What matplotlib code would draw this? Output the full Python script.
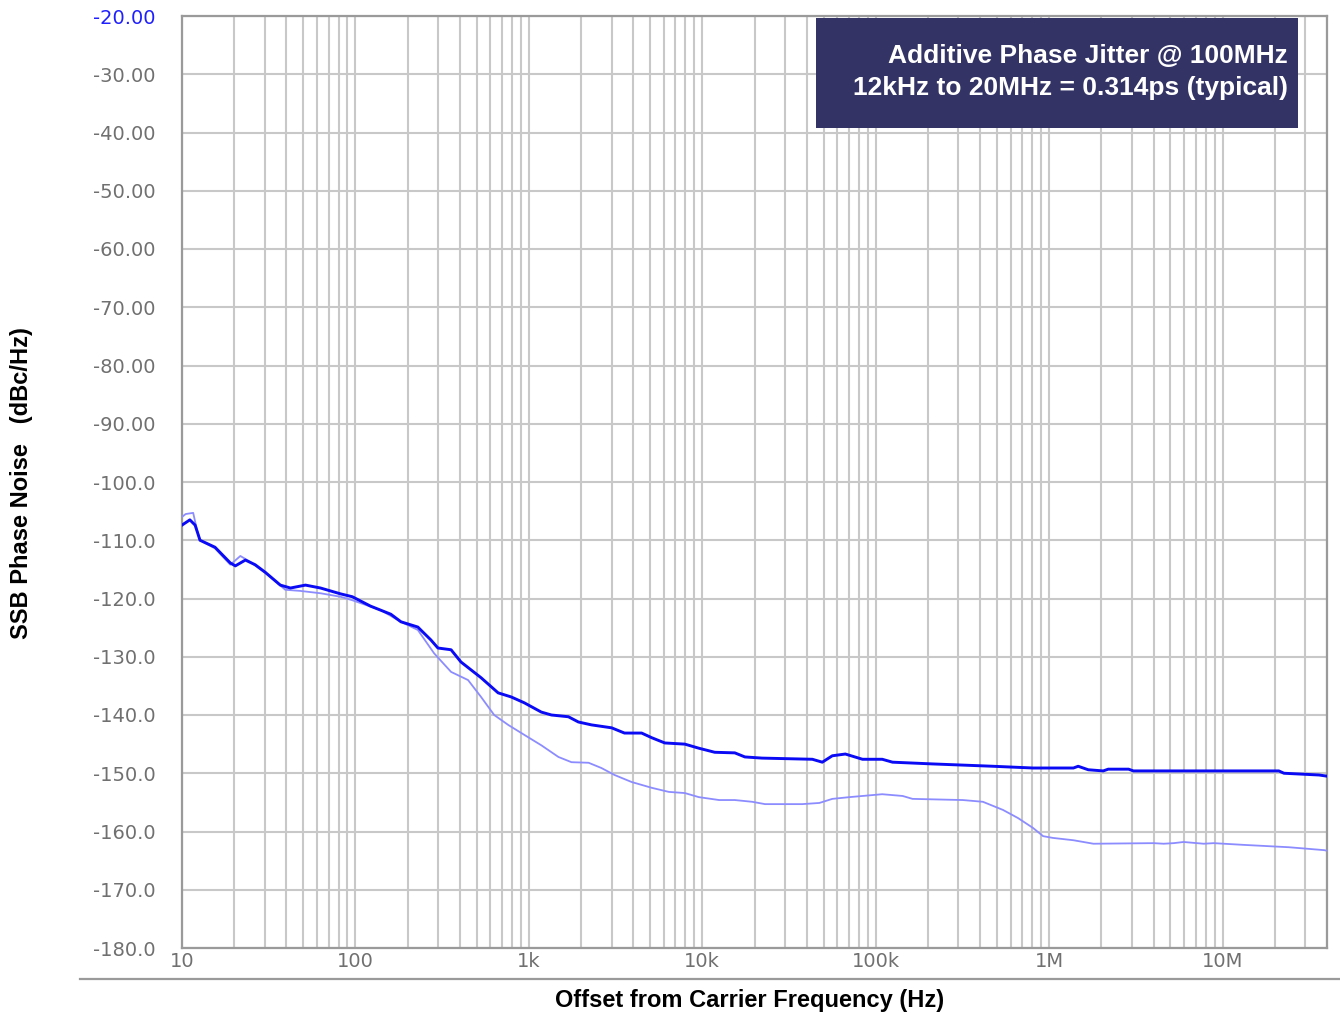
import matplotlib
matplotlib.use("Agg")
import matplotlib.pyplot as plt
from matplotlib.patches import Rectangle
from matplotlib.ticker import FixedLocator, LogLocator, NullFormatter

# dark trace (output of device)
freq_dark = [10, 11.1, 11.9, 12.7, 15.5, 19.0, 20.3, 23.2, 26.4, 30.2, 36.9, 42.2, 51.5, 62.9,
             82.0, 96, 122, 160, 183, 229, 238, 272, 299, 356, 406, 530, 665, 791, 940,
             1180, 1350, 1690, 1930, 2300, 3000, 3560, 4470, 5110, 6080, 7930, 9550,
             11800, 15400, 17600, 22100, 43100, 49200, 56200, 66800, 83900, 109000,
             125000, 213000, 474000, 808000, 1.38e6, 1.47e6, 1.68e6, 2.05e6, 2.19e6,
             2.87e6, 3.06e6, 2.11e7, 2.26e7, 3.6e7, 4.0e7]
pn_dark = [-107.4, -106.5, -107.4, -110.0, -111.2, -113.9, -114.4, -113.4, -114.2, -115.5,
           -117.7, -118.2, -117.7, -118.2, -119.2, -119.7, -121.3, -122.7, -124.0, -124.9,
           -125.4, -127.1, -128.5, -128.8, -130.9, -133.6, -136.2, -136.9, -137.9, -139.5,
           -140.0, -140.3, -141.2, -141.7, -142.2, -143.1, -143.1, -143.9, -144.8, -145.0,
           -145.7, -146.4, -146.5, -147.2, -147.4, -147.6, -148.1, -147.0, -146.7, -147.6,
           -147.6, -148.1, -148.4, -148.8, -149.1, -149.1, -148.8, -149.4, -149.6, -149.3,
           -149.3, -149.6, -149.6, -150.0, -150.3, -150.5]

# light trace (source reference)
freq_light = [10, 10.5, 11.6, 12.2, 12.7, 15.5, 19.0, 21.7, 24.7, 30.2, 39.4, 48.2, 62.9,
              82.0, 96, 140, 183, 229, 284, 356, 446, 530, 631, 760, 940, 1180, 1480,
              1760, 2210, 2620, 3120, 3910, 5110, 6410, 7930, 9550, 12500, 15400, 19400,
              23000, 37700, 47300, 56200, 70500, 83900, 109000, 143000, 163000, 318000,
              415000, 542000, 662000, 808000, 923000, 1.05e6, 1.38e6, 1.80e6, 4.0e6,
              4.57e6, 5.22e6, 5.96e6, 7.78e6, 8.89e6, 1.33e7, 2.41e7, 3.85e7, 4.0e7]
pn_light = [-106.0, -105.5, -105.3, -108.2, -110.0, -111.4, -114.2, -112.7, -113.7, -115.6,
            -118.5, -118.7, -119.1, -119.7, -120.3, -122.0, -124.0, -125.4, -129.4, -132.6,
            -134.0, -136.9, -140.0, -141.7, -143.4, -145.2, -147.2, -148.1, -148.2, -149.1,
            -150.3, -151.5, -152.5, -153.2, -153.4, -154.1, -154.6, -154.6, -154.9, -155.3,
            -155.3, -155.1, -154.4, -154.1, -153.9, -153.6, -153.9, -154.4, -154.6, -154.9,
            -156.3, -157.7, -159.4, -160.8, -161.1, -161.5, -162.1, -162.0, -162.1, -162.0,
            -161.8, -162.1, -162.0, -162.3, -162.7, -163.2, -163.3]

xticks = [10, 100, 1e3, 1e4, 1e5, 1e6, 1e7]
xlabels = ["10", "100", "1k", "10k", "100k", "1M", "10M"]
yticks = list(range(-20, -181, -10))
ylabels = ["%.2f" % v if v > -100 else "%.1f" % v for v in yticks]

note = "Additive Phase Jitter @ 100MHz\n12kHz to 20MHz = 0.314ps (typical)"

grid_col = "#c8c8c8"
tick_col = "#707070"

fig = plt.figure(figsize=(13.4, 10.14), dpi=100)
ax = fig.add_axes([182 / 1340, 1 - 948 / 1014, (1327 - 182) / 1340, (948 - 16) / 1014])

ax.plot(freq_light, pn_light, color="#8c8cff", lw=1.3, zorder=3)
ax.plot(freq_dark, pn_dark, color="#0a0af5", lw=2.1, zorder=4)

ax.set_xscale("log")
ax.set_xlim(10, 4.0e7)
ax.set_ylim(-180, -20)

ax.xaxis.set_major_locator(FixedLocator(xticks))
ax.set_xticklabels(xlabels)
ax.xaxis.set_minor_locator(LogLocator(base=10, subs=range(2, 10), numticks=20))
ax.xaxis.set_minor_formatter(NullFormatter())
ax.set_yticks(yticks)
ax.set_yticklabels(ylabels)

ax.grid(True, which="both", axis="x", color=grid_col, lw=1.5)
ax.grid(True, which="major", axis="y", color=grid_col, lw=1.5)
ax.set_axisbelow(True)

ax.tick_params(axis="both", which="both", length=0, colors=tick_col, labelsize=14)
ax.tick_params(axis="y", pad=19)
ax.tick_params(axis="x", pad=3)
ax.get_yticklabels()[0].set_color("#2020ff")

for sp in ax.spines.values():
    sp.set_color("#9a9a9a")
    sp.set_linewidth(1.6)

# annotation box
fig.patches.append(Rectangle((816 / 1340, 1 - 128 / 1014), (1298 - 816) / 1340, 110 / 1014,
                             transform=fig.transFigure, facecolor="#333366", edgecolor="none",
                             zorder=5))
fig.text(1288 / 1340, 1 - 72 / 1014, note, ha="right", va="center", color="white",
         fontsize=19, fontweight="bold", family="Liberation Sans", linespacing=1.45, zorder=6)

# separator line under the plot
fig.add_artist(plt.Line2D([80 / 1340, 1.0], [1 - 979 / 1014] * 2, transform=fig.transFigure,
                          color="#9a9a9a", lw=1.6))

fig.text(22 / 1340, 1 - 483 / 1014, "SSB Phase Noise   (dBc/Hz)", rotation=90, ha="center",
         va="center", fontsize=17, fontweight="bold", family="Liberation Sans")
fig.text(750 / 1340, 1 - 1001 / 1014, "Offset from Carrier Frequency (Hz)", ha="center",
         va="center", fontsize=17, fontweight="bold", family="Liberation Sans")

fig.savefig("out.png", dpi=100)
